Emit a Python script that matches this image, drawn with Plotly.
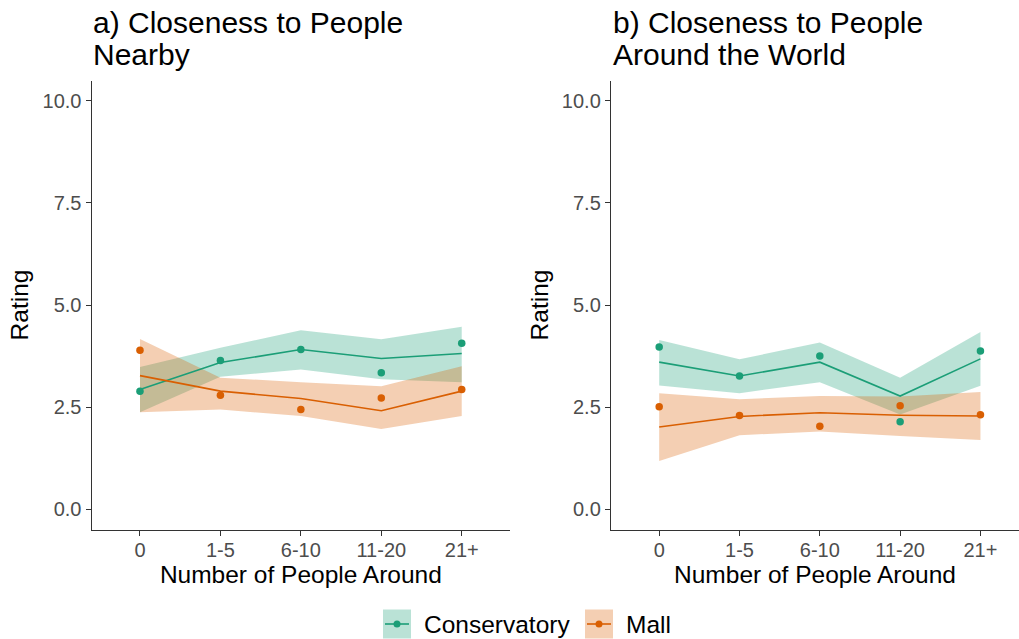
import plotly.graph_objects as go

# ---------------- data ----------------
categories = ["0", "1-5", "6-10", "11-20", "21+"]
tick_vals = [0, 2.5, 5, 7.5, 10]
tick_text = ["0.0", "2.5", "5.0", "7.5", "10.0"]

# Panel a) Closeness to People Nearby
cons_pts_a = [2.89, 3.64, 3.91, 3.34, 4.06]
cons_fit_a = [2.93, 3.59, 3.91, 3.69, 3.81]
cons_lo_a = [2.37, 3.24, 3.42, 3.18, 3.11]
cons_hi_a = [3.48, 3.95, 4.38, 4.16, 4.47]
mall_pts_a = [3.89, 2.79, 2.44, 2.72, 2.93]
mall_fit_a = [3.27, 2.89, 2.71, 2.41, 2.89]
mall_lo_a = [2.37, 2.44, 2.28, 1.96, 2.28]
mall_hi_a = [4.17, 3.22, 3.11, 3.01, 3.50]

# Panel b) Closeness to People Around the World
cons_pts_b = [3.97, 3.26, 3.75, 2.14, 3.87]
cons_fit_b = [3.60, 3.26, 3.60, 2.77, 3.68]
cons_lo_b = [3.03, 2.84, 3.11, 2.32, 3.02]
cons_hi_b = [4.14, 3.67, 4.08, 3.22, 4.34]
mall_pts_b = [2.51, 2.29, 2.03, 2.53, 2.31]
mall_fit_b = [2.01, 2.27, 2.36, 2.30, 2.28]
mall_lo_b = [1.18, 1.81, 1.90, 1.79, 1.69]
mall_hi_b = [2.84, 2.69, 2.77, 2.76, 2.87]

groups = ["Conservatory", "Mall"]
# --------------------------------------

W, H = 1019, 639
FONT = "Liberation Sans, Arial, sans-serif"
COLORS = {"Conservatory": "#1B9E77", "Mall": "#D95F02"}
FILLS = {"Conservatory": "rgba(27,158,119,0.3)", "Mall": "rgba(217,95,2,0.3)"}


def px(x):
    return x / W


def py(y):
    return 1 - y / H


panels = [
    ("x", "y", {
        "Conservatory": (cons_pts_a, cons_fit_a, cons_lo_a, cons_hi_a),
        "Mall": (mall_pts_a, mall_fit_a, mall_lo_a, mall_hi_a)}),
    ("x2", "y2", {
        "Conservatory": (cons_pts_b, cons_fit_b, cons_lo_b, cons_hi_b),
        "Mall": (mall_pts_b, mall_fit_b, mall_lo_b, mall_hi_b)}),
]

fig = go.Figure()
for xa, ya, d in panels:
    # ribbons
    for g in groups:
        pts, fit, lo, hi = d[g]
        fig.add_trace(go.Scatter(
            x=categories + categories[::-1], y=hi + lo[::-1],
            fill="toself", fillcolor=FILLS[g], mode="lines",
            line=dict(width=0), hoverinfo="skip", showlegend=False,
            xaxis=xa, yaxis=ya))
    # fitted lines
    for g in groups:
        pts, fit, lo, hi = d[g]
        fig.add_trace(go.Scatter(
            x=categories, y=fit, mode="lines",
            line=dict(color=COLORS[g], width=1.6), showlegend=False,
            name=g, xaxis=xa, yaxis=ya))
    # observed points
    for g in groups:
        pts, fit, lo, hi = d[g]
        fig.add_trace(go.Scatter(
            x=categories, y=pts, mode="markers",
            marker=dict(color=COLORS[g], size=7.5), showlegend=False,
            name=g, xaxis=xa, yaxis=ya))

axis_common = dict(
    showline=True, linecolor="#333333", linewidth=1.4,
    ticks="outside", ticklen=5, tickwidth=1.4, tickcolor="#333333",
    tickfont=dict(family=FONT, size=20, color="#4D4D4D"),
    showgrid=False, zeroline=False,
)
xcommon = dict(axis_common, type="category", categoryorder="array",
               categoryarray=categories, ticklabelstandoff=-3,
               title=dict(text="Number of People Around",
                          font=dict(family=FONT, size=24.5, color="black"),
                          standoff=2))
ycommon = dict(axis_common, range=[-0.5, 10.5], tickvals=tick_vals,
               ticktext=tick_text,
               title=dict(text="Rating",
                          font=dict(family=FONT, size=24.5, color="black"),
                          standoff=6))

ydom = [py(529.5), py(80.5)]
fig.update_layout(
    width=W, height=H,
    margin=dict(l=0, r=0, t=0, b=0),
    paper_bgcolor="white", plot_bgcolor="white",
    showlegend=False,
    font=dict(family=FONT),
    xaxis=dict(xcommon, domain=[px(91.7), px(510)], range=[-0.6, 4.6], anchor="y"),
    yaxis=dict(ycommon, domain=ydom, anchor="x"),
    xaxis2=dict(xcommon, domain=[px(611), 1.0], range=[-0.6, 4.48], anchor="y2"),
    yaxis2=dict(ycommon, domain=ydom, anchor="x2"),
)

# titles
titles = [
    (93, ["a) Closeness to People", "Nearby"]),
    (613, ["b) Closeness to People", "Around the World"]),
]
for x0, lines in titles:
    for i, t in enumerate(lines):
        fig.add_annotation(
            text=t, xref="paper", yref="paper", x=px(x0 - 2), y=py(4 + 32 * i),
            xanchor="left", yanchor="top", showarrow=False,
            font=dict(family=FONT, size=30, color="black"))

# legend (manual, ggplot-style keys)
legend_items = [("Conservatory", 383, 423), ("Mall", 585, 625)]
ky0, ky1, kyc = 609.5, 638.5, 624
for g, kx, tx in legend_items:
    fig.add_shape(type="rect", xref="paper", yref="paper",
                  x0=px(kx), x1=px(kx + 28), y0=py(ky1), y1=py(ky0),
                  fillcolor=FILLS[g], line=dict(width=0), layer="above")
    fig.add_shape(type="line", xref="paper", yref="paper",
                  x0=px(kx + 2), x1=px(kx + 26), y0=py(kyc), y1=py(kyc),
                  line=dict(color=COLORS[g], width=1.6), layer="above")
    fig.add_shape(type="circle", xref="paper", yref="paper",
                  x0=px(kx + 14 - 3.5), x1=px(kx + 14 + 3.5),
                  y0=py(kyc + 3.5), y1=py(kyc - 3.5),
                  fillcolor=COLORS[g], line=dict(width=0), layer="above")
    fig.add_annotation(text=g, xref="paper", yref="paper", x=px(tx - 1),
                       y=py(kyc), xanchor="left", yanchor="middle",
                       showarrow=False,
                       font=dict(family=FONT, size=24.5, color="black"))

fig.write_html("out.html")
